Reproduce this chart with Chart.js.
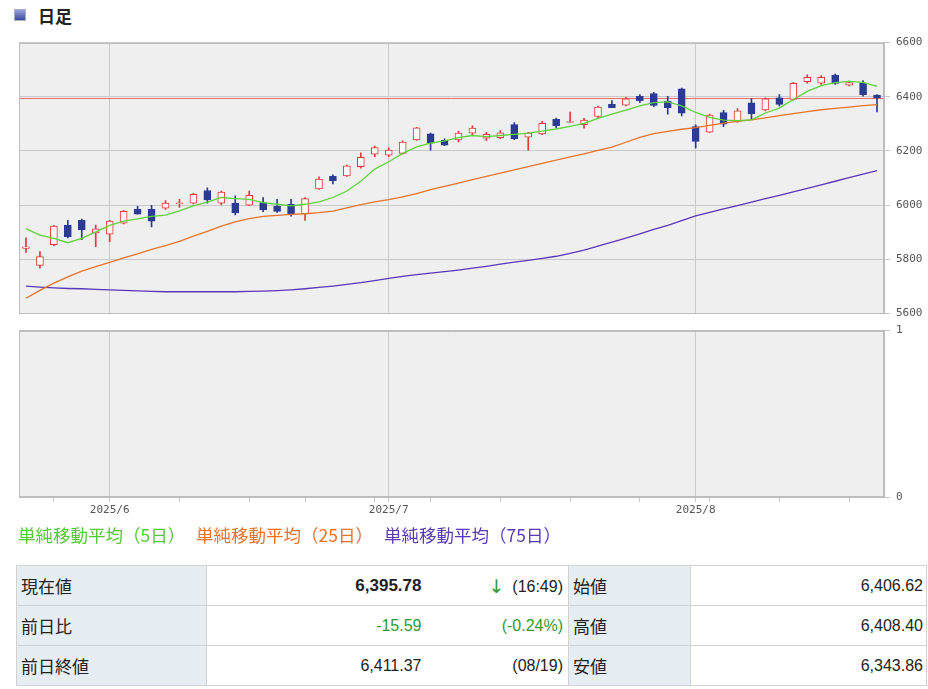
<!DOCTYPE html>
<html lang="ja">
<head>
<meta charset="utf-8">
<script src="https://cdn.jsdelivr.net/npm/chart.js@4.4.1/dist/chart.umd.min.js"></script>
<style>
  html, body { margin: 0; padding: 0; background: #fff; }
  body { width: 928px; height: 689px; position: relative; overflow: hidden;
         font-family: "Liberation Sans", "Noto Sans CJK JP", sans-serif; color: #222; }
  .title { position: absolute; left: 14px; top: 5px; height: 22px; line-height: 22px;
           font-family: "Noto Sans CJK JP", sans-serif; font-weight: bold; font-size: 17px; }
  .title .icon { position: absolute; left: 0; top: 4px; width: 10px; height: 10px;
                 border: 1px solid #a8acc8; background: linear-gradient(#9aa2dc, #3c4a9e); }
  .title span.t { position: absolute; left: 24px; top: 0; white-space: nowrap; }
  canvas { position: absolute; left: 0; }
  #main { top: 30px; }
  #sub { top: 318px; }
  .legend { position: absolute; top: 523px; font-family: "Noto Sans CJK JP", sans-serif;
            font-size: 17.5px; line-height: 24px; white-space: nowrap; }
  table.info { position: absolute; left: 16px; top: 565px; width: 910px; table-layout: fixed;
               border-collapse: collapse; font-size: 16px; }
  table.info td { height: 39px; border: 1px solid #d2d2d2; padding: 0; white-space: nowrap; }
  table.info td.lab { background: #e6edf3; padding-left: 4px; font-family: "Noto Sans CJK JP", sans-serif; font-size: 17px; }
  table.info td.val { text-align: right; border-right: hidden; }
  table.info td.ext { text-align: right; padding-right: 5px; border-left: hidden; }
  table.info td.v2 { text-align: right; padding-right: 3px; }
  .g { color: #339933; }
  .arrow { font-family: "DejaVu Sans", sans-serif; font-size: 19px; margin-right: 8px; vertical-align: -1px; }
  b { font-weight: bold; font-size: 17px; }
</style>
</head>
<body>
<div class="title"><div class="icon"></div><span class="t">日足</span></div>

<canvas id="main" width="928" height="296"></canvas>
<canvas id="sub" width="928" height="206"></canvas>

<div class="legend" style="left:18px;color:#55c83a">単純移動平均（5日）</div>
<div class="legend" style="left:196px;color:#e8742a">単純移動平均（25日）</div>
<div class="legend" style="left:384px;color:#5a3ab4">単純移動平均（75日）</div>

<table class="info">
  <colgroup><col style="width:190px"><col style="width:215px"><col style="width:147px"><col style="width:122px"><col style="width:236px"></colgroup>
  <tr><td class="lab">現在値</td><td class="val"><b>6,395.78</b></td><td class="ext"><span class="g arrow">↓</span>(16:49)</td><td class="lab">始値</td><td class="v2">6,406.62</td></tr>
  <tr><td class="lab">前日比</td><td class="val g">-15.59</td><td class="ext g">(-0.24%)</td><td class="lab">高値</td><td class="v2">6,408.40</td></tr>
  <tr><td class="lab">前日終値</td><td class="val">6,411.37</td><td class="ext">(08/19)</td><td class="lab">安値</td><td class="v2">6,343.86</td></tr>
</table>

<script>
// daily candles, 2025/5/22 - 2025/8/20
var days = [
  '2025-05-22','2025-05-23','2025-05-27','2025-05-28','2025-05-29','2025-05-30',
  '2025-06-02','2025-06-03','2025-06-04','2025-06-05','2025-06-06',
  '2025-06-09','2025-06-10','2025-06-11','2025-06-12','2025-06-13',
  '2025-06-16','2025-06-17','2025-06-18','2025-06-20',
  '2025-06-23','2025-06-24','2025-06-25','2025-06-26','2025-06-27',
  '2025-06-30','2025-07-01','2025-07-02','2025-07-03',
  '2025-07-07','2025-07-08','2025-07-09','2025-07-10','2025-07-11',
  '2025-07-14','2025-07-15','2025-07-16','2025-07-17','2025-07-18',
  '2025-07-21','2025-07-22','2025-07-23','2025-07-24','2025-07-25',
  '2025-07-28','2025-07-29','2025-07-30','2025-07-31','2025-08-01',
  '2025-08-04','2025-08-05','2025-08-06','2025-08-07','2025-08-08',
  '2025-08-11','2025-08-12','2025-08-13','2025-08-14','2025-08-15',
  '2025-08-18','2025-08-19','2025-08-20'
];

var opens = [
  5840, 5777, 5854, 5926, 5944, 5897,
  5893, 5933, 5984, 5984, 5989,
  6004, 6007, 6054, 6007, 6007,
  6000, 6009, 5995, 6003,
  5967, 6060, 6106, 6108, 6142,
  6188, 6184, 6191, 6241,
  6263, 6239, 6241, 6266, 6247,
  6249, 6297, 6251, 6263, 6317,
  6305, 6297, 6327, 6372, 6369,
  6402, 6412, 6384, 6429, 6290,
  6269, 6342, 6309, 6378, 6351,
  6396, 6390, 6456, 6450, 6480,
  6443, 6450, 6406.62
];
var highs = [
  5879, 5828, 5925, 5944, 5948, 5926,
  5944, 5980, 5995, 5999, 6017,
  6021, 6043, 6064, 6052, 6034,
  6052, 6028, 6021, 6021,
  6028, 6104, 6112, 6148, 6193,
  6218, 6211, 6237, 6287,
  6266, 6245, 6273, 6293, 6269,
  6275, 6305, 6269, 6309, 6321,
  6343, 6320, 6366, 6386, 6398,
  6408, 6416, 6402, 6432, 6296,
  6336, 6350, 6356, 6393, 6396,
  6408, 6453, 6481, 6478, 6484,
  6458, 6460, 6408.40
];
var lows = [
  5825, 5767, 5850, 5879, 5872, 5846,
  5865, 5930, 5966, 5919, 5984,
  5991, 6003, 6007, 6001, 5964,
  5998, 5976, 5973, 5959,
  5943, 6058, 6078, 6106, 6136,
  6179, 6179, 6188, 6239,
  6203, 6219, 6233, 6257, 6239,
  6245, 6242, 6203, 6260, 6285,
  6304, 6284, 6320, 6360, 6366,
  6378, 6363, 6336, 6329, 6211,
  6267, 6290, 6305, 6317, 6348,
  6366, 6387, 6450, 6446, 6446,
  6440, 6402, 6343.86
];
var closes = [
  5846, 5810, 5922, 5883, 5908, 5912,
  5941, 5977, 5966, 5941, 6007,
  6008, 6040, 6019, 6048, 5971,
  6036, 5982, 5977, 5967,
  6024, 6096, 6090, 6145, 6176,
  6212, 6203, 6233, 6285,
  6229, 6221, 6266, 6284, 6261,
  6267, 6245, 6266, 6302, 6293,
  6308, 6314, 6362, 6360, 6392,
  6386, 6368, 6360, 6339, 6235,
  6332, 6299, 6348, 6338, 6392,
  6372, 6450, 6472, 6472, 6449,
  6452, 6408, 6395.78
];

var ma5 = [
  5913, 5889, 5877, 5861, 5877, 5901,
  5925, 5941, 5949, 5958, 5963,
  5979, 5997, 6011, 6028, 6024,
  6021, 6009, 6003, 5997,
  6003, 6012, 6028, 6052, 6088,
  6133, 6160, 6191, 6215,
  6229, 6237, 6249, 6257, 6253,
  6257, 6261, 6266, 6273, 6281,
  6291, 6302, 6320, 6336, 6351,
  6366, 6378, 6381, 6366, 6342,
  6324, 6314, 6312, 6315, 6340,
  6358, 6390, 6420, 6441, 6452,
  6457, 6453, 6438
];
var ma25 = [
  5656, 5685, 5712, 5735, 5756, 5773,
  5788, 5805, 5820, 5836, 5850,
  5866, 5885, 5903, 5922, 5938,
  5950, 5958, 5962, 5966,
  5968, 5972, 5978, 5990, 6002,
  6012, 6020, 6030, 6042,
  6057, 6069, 6081, 6094, 6106,
  6118, 6130, 6142, 6154, 6166,
  6178, 6189, 6202, 6214, 6232,
  6250, 6264, 6272, 6280, 6286,
  6294, 6303, 6309, 6315, 6322,
  6330, 6338, 6345, 6352, 6357,
  6362, 6367, 6371
];
var ma75 = [
  5701, 5697, 5694, 5692, 5691, 5689,
  5687, 5685, 5683, 5681, 5680,
  5680, 5680, 5680, 5680, 5680,
  5681, 5682, 5684, 5687,
  5691, 5696, 5701, 5707, 5714,
  5721, 5729, 5737, 5743,
  5749, 5754, 5760, 5767, 5774,
  5782, 5789, 5796, 5803, 5811,
  5822, 5834, 5848, 5863, 5878,
  5894, 5910, 5925, 5943, 5960,
  5973, 5986, 5998, 6011, 6024,
  6036, 6049, 6062, 6075, 6088,
  6101, 6114, 6127
];

var priceTicks = [5600, 5800, 6000, 6200, 6400, 6600];
var currentPrice = 6395.78;

var UP = '#e23a3a', DOWN = '#2b3a92', UP_FILL = '#fafafa';
var GRID = '#c9c9c9', FRAME = '#bdbdbd', PLOT_BG = '#efefef';
var AXIS_FONT = { family: 'DejaVu Sans Mono', size: 11 };
var AXIS_COLOR = '#555';

var bodies = opens.map(function (o, i) { return [o, closes[i]]; });
var wicks = lows.map(function (l, i) { return [l, highs[i]]; });
var candleColor = closes.map(function (c, i) { return c >= opens[i] ? UP : DOWN; });
var candleFill = closes.map(function (c, i) { return c >= opens[i] ? UP_FILL : DOWN; });

// first trading day of month / of week
var monthStart = {}, weekStart = {};
days.forEach(function (d, i) {
  if (i === 0) return;
  var prev = days[i - 1];
  if (d.slice(5, 7) !== prev.slice(5, 7)) monthStart[i] = true;
  var wd = new Date(d + 'T00:00:00Z').getUTCDay();
  var pwd = new Date(prev + 'T00:00:00Z').getUTCDay();
  if (wd < pwd) weekStart[i] = true;
});
function monthLabel(i) { return days[i].slice(0, 4) + '/' + parseInt(days[i].slice(5, 7), 10); }

var panelBg = {
  id: 'panelBg',
  beforeDraw: function (chart) {
    var a = chart.chartArea, ctx = chart.ctx;
    ctx.save();
    ctx.fillStyle = PLOT_BG;
    ctx.fillRect(a.left, a.top, a.right - a.left, a.bottom - a.top);
    ctx.restore();
  },
  afterDraw: function (chart) {
    var a = chart.chartArea, ctx = chart.ctx;
    ctx.save();
    ctx.strokeStyle = FRAME;
    ctx.lineWidth = 1;
    ctx.strokeRect(Math.round(a.left) + 0.5, Math.round(a.top) + 0.5,
      Math.round(a.right - a.left) - 1, Math.round(a.bottom - a.top) - 1);
    ctx.restore();
  }
};

var priceLine = {
  id: 'priceLine',
  beforeDatasetsDraw: function (chart) {
    var a = chart.chartArea, ctx = chart.ctx;
    var y = Math.round(chart.scales.y.getPixelForValue(currentPrice)) + 0.5;
    ctx.save();
    ctx.strokeStyle = '#ef6a6a';
    ctx.lineWidth = 1;
    ctx.beginPath();
    ctx.moveTo(a.left, y);
    ctx.lineTo(a.right, y);
    ctx.stroke();
    ctx.restore();
  }
};

function maLine(label, data, color) {
  return { type: 'line', label: label, data: data, borderColor: color, borderWidth: 1.3,
           pointRadius: 0, fill: false, tension: 0, order: 0 };
}

function plain(v) { return String(v); }

new Chart(document.getElementById('main'), {
  type: 'bar',
  data: {
    labels: days,
    datasets: [
      maLine('MA5', ma5, '#5fd23c'),
      maLine('MA25', ma25, '#e8742a'),
      maLine('MA75', ma75, '#5a36b8'),
      { label: 'body', data: bodies, backgroundColor: candleFill, borderColor: candleColor,
        borderWidth: 1, borderSkipped: false, barThickness: 7, minBarLength: 1, grouped: false, order: 1 },
      { label: 'wick', data: wicks, backgroundColor: candleColor, borderWidth: 0,
        barThickness: 1, grouped: false, order: 2 }
    ]
  },
  options: {
    responsive: false, animation: false,
    layout: { padding: { left: 19, top: 12, right: 0, bottom: 8 } },
    plugins: { legend: { display: false }, tooltip: { enabled: false } },
    scales: {
      x: {
        offset: true,
        ticks: { display: false, autoSkip: false },
        grid: { offset: false, drawTicks: false,
                color: function (c) { return monthStart[c.index] ? GRID : 'rgba(0,0,0,0)'; } },
        border: { color: FRAME },
        afterFit: function (s) { s.height = 0; }
      },
      y: {
        position: 'right', min: 5600, max: 6600,
        afterBuildTicks: function (s) { s.ticks = priceTicks.map(function (v) { return { value: v }; }); },
        ticks: { font: AXIS_FONT, color: AXIS_COLOR, padding: 6, callback: plain },
        grid: { color: GRID, tickLength: 6, tickColor: GRID },
        border: { color: FRAME },
        afterFit: function (s) { s.width = 44; }
      }
    }
  },
  plugins: [panelBg, priceLine]
});

new Chart(document.getElementById('sub'), {
  type: 'bar',
  data: { labels: days, datasets: [] },
  options: {
    responsive: false, animation: false,
    layout: { padding: { left: 19, top: 10, right: 0, bottom: 0 } },
    plugins: { legend: { display: false }, tooltip: { enabled: false } },
    scales: {
      x: {
        offset: true,
        ticks: {
          autoSkip: false, maxRotation: 0, font: AXIS_FONT, color: AXIS_COLOR, padding: 2,
          callback: function (v, i) { return monthStart[i] ? monthLabel(i) : ''; }
        },
        grid: {
          offset: false, tickLength: 5,
          color: function (c) { return monthStart[c.index] ? GRID : 'rgba(0,0,0,0)'; },
          tickColor: function (c) { return (monthStart[c.index] || weekStart[c.index]) ? GRID : 'rgba(0,0,0,0)'; }
        },
        border: { color: FRAME },
        afterFit: function (s) { s.height = 27; }
      },
      y: {
        position: 'right', min: 0, max: 1,
        ticks: { stepSize: 1, font: AXIS_FONT, color: AXIS_COLOR, padding: 6, callback: plain },
        grid: { color: FRAME, tickLength: 6, tickColor: GRID },
        border: { color: FRAME },
        afterFit: function (s) { s.width = 44; }
      }
    }
  },
  plugins: [panelBg]
});
</script>
</body>
</html>
